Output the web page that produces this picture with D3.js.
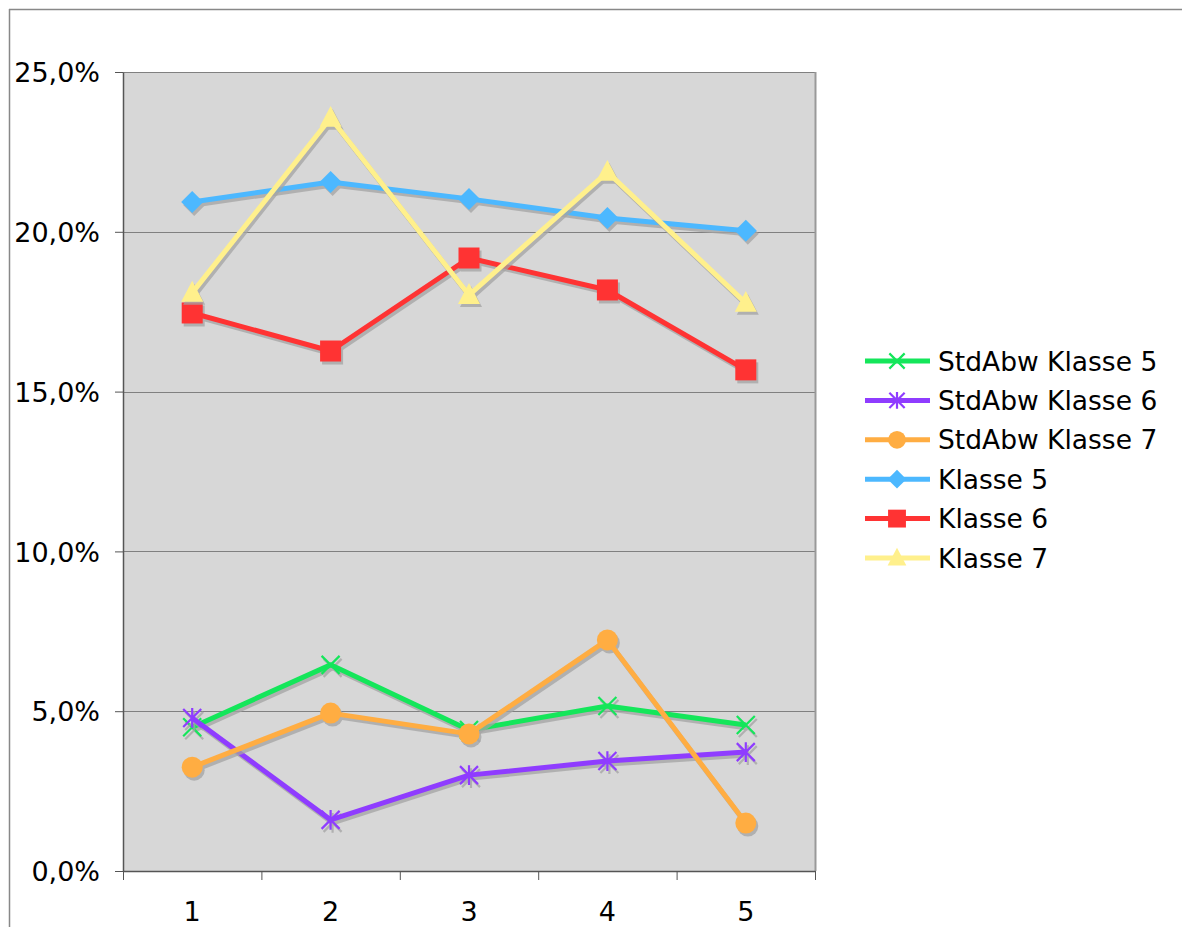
<!DOCTYPE html>
<html><head><meta charset="utf-8">
<script src="https://cdn.jsdelivr.net/npm/d3@7/dist/d3.min.js"></script>
<style>body{margin:0;background:#fff;} text{font-family:"DejaVu Sans",Verdana,sans-serif;}</style>
</head><body><svg id="c" width="1182" height="927"></svg>
<script>
const categories = ["1","2","3","4","5"];
const yTicks = [0,5,10,15,20,25];
const seriesNames = ["StdAbw Klasse 5","StdAbw Klasse 6","StdAbw Klasse 7","Klasse 5","Klasse 6","Klasse 7"];
const stdKlasse5 = [4.5, 6.45, 4.41, 5.16, 4.57];
const stdKlasse6 = [4.79, 1.6, 3.0, 3.44, 3.72];
const stdKlasse7 = [3.25, 4.94, 4.29, 7.23, 1.5];
const klasse5 = [20.93, 21.56, 21.03, 20.43, 20.03];
const klasse6 = [17.46, 16.27, 19.18, 18.18, 15.68];
const klasse7 = [18.09, 23.56, 18.02, 21.87, 17.77];
const colors = ["#14e65a","#8f3cff","#ffad42","#4cb8ff","#ff3333","#fff08c"];
const markers = ["x","star","circle","diamond","square","triangle"];
const values = [stdKlasse5, stdKlasse6, stdKlasse7, klasse5, klasse6, klasse7];

const svg = d3.select("#c");
svg.append("line").attr("x1",9).attr("y1",9.5).attr("x2",1182).attr("y2",9.5).attr("stroke","#888").attr("stroke-width",1.5);
svg.append("line").attr("x1",9.5).attr("y1",9).attr("x2",9.5).attr("y2",927).attr("stroke","#888").attr("stroke-width",1.5);

const L=123, R=815, T=72, B=871;
const x = d3.scaleBand().domain(categories).range([L,R]);
const y = d3.scaleLinear().domain([0,25]).range([B,T]);

svg.append("rect").attr("x",L).attr("y",T).attr("width",R-L).attr("height",B-T).attr("fill","#d7d7d7");
svg.selectAll("line.grid").data(yTicks.slice(1)).enter().append("line")
  .attr("x1",L).attr("x2",R).attr("y1",d=>Math.round(y(d))+0.5).attr("y2",d=>Math.round(y(d))+0.5)
  .attr("stroke","#808080").attr("stroke-width",1.2);
svg.append("line").attr("x1",R+0.5).attr("x2",R+0.5).attr("y1",T).attr("y2",B).attr("stroke","#999").attr("stroke-width",2);

const yAxis = d3.axisLeft(y).tickValues(yTicks).tickSize(8).tickSizeOuter(0)
  .tickFormat(d=>d3.format(".1f")(d).replace(".",",")+"%");
const gy = svg.append("g").attr("transform",`translate(${L},0)`).call(yAxis);
gy.selectAll("text").attr("font-size",27).attr("fill","#000").attr("x",-23).attr("dy","0.36em");
gy.selectAll("line").attr("stroke","#555");
gy.select(".domain").attr("stroke","#555").attr("stroke-width",1.5);

const xAxis = d3.axisBottom(x).tickSize(0).tickSizeOuter(0);
const gx = svg.append("g").attr("transform",`translate(0,${B})`).call(xAxis);
gx.selectAll("text").attr("font-size",27).attr("fill","#000").attr("dy",0).attr("y",50);
gx.select(".domain").attr("stroke","#555").attr("stroke-width",1.5);
const bounds = categories.map(c=>x(c)).concat([R]);
svg.selectAll("line.xt").data(bounds).enter().append("line")
  .attr("x1",d=>d+0.5).attr("x2",d=>d+0.5).attr("y1",B).attr("y2",B+9).attr("stroke","#555").attr("stroke-width",1);

function drawMarker(g, type, cx, cy, color, scale){
  const s = scale||1;
  if(type==="x"){
    const r=9*s;
    g.append("path").attr("d",`M${cx-r},${cy-r}L${cx+r},${cy+r}M${cx-r},${cy+r}L${cx+r},${cy-r}`).attr("stroke",color).attr("stroke-width",2.2).attr("fill","none");
  } else if(type==="star"){
    const r=9*s;
    g.append("path").attr("d",`M${cx-r},${cy-r}L${cx+r},${cy+r}M${cx-r},${cy+r}L${cx+r},${cy-r}M${cx},${cy-r*1.1}L${cx},${cy+r*1.1}`).attr("stroke",color).attr("stroke-width",2.2).attr("fill","none");
  } else if(type==="circle"){
    g.append("circle").attr("cx",cx).attr("cy",cy).attr("r",10.5*s).attr("fill",color);
  } else if(type==="diamond"){
    const r=11*s;
    g.append("path").attr("d",`M${cx},${cy-r}L${cx+r},${cy}L${cx},${cy+r}L${cx-r},${cy}Z`).attr("fill",color);
  } else if(type==="square"){
    const r=10.5*s;
    g.append("rect").attr("x",cx-r).attr("y",cy-r).attr("width",2*r).attr("height",2*r).attr("fill",color);
  } else if(type==="triangle"){
    const r=11*s;
    g.append("path").attr("d",`M${cx},${cy-r*1.1}L${cx+r},${cy+r*0.8}L${cx-r},${cy+r*0.8}Z`).attr("fill",color);
  }
}

const line = d3.line().x((d,i)=>x(categories[i])+x.bandwidth()/2).y(d=>y(d));
const plot = svg.append("g");
values.forEach((vals,si)=>{
  const sh = plot.append("g").attr("transform","translate(2,3)").attr("opacity",0.75);
  sh.append("path").attr("d",line(vals)).attr("fill","none").attr("stroke","#a4a4a4").attr("stroke-width",5).attr("stroke-linejoin","round");
  vals.forEach((v,i)=>drawMarker(sh, markers[si], x(categories[i])+x.bandwidth()/2, y(v), "#a4a4a4"));
  const g = plot.append("g");
  g.append("path").attr("d",line(vals)).attr("fill","none").attr("stroke",colors[si]).attr("stroke-width",5).attr("stroke-linejoin","round");
  vals.forEach((v,i)=>drawMarker(g, markers[si], x(categories[i])+x.bandwidth()/2, y(v), colors[si]));
});

const lg = svg.append("g");
seriesNames.forEach((n,i)=>{
  const cy = 361 + i*39.4;
  lg.append("line").attr("x1",865).attr("x2",930).attr("y1",cy).attr("y2",cy).attr("stroke",colors[i]).attr("stroke-width",5);
  drawMarker(lg, markers[i], 897, cy, colors[i], 0.85);
  lg.append("text").attr("x",938).attr("y",cy).attr("dy","0.36em").attr("font-size",26.5).text(n);
});
</script></body></html>
